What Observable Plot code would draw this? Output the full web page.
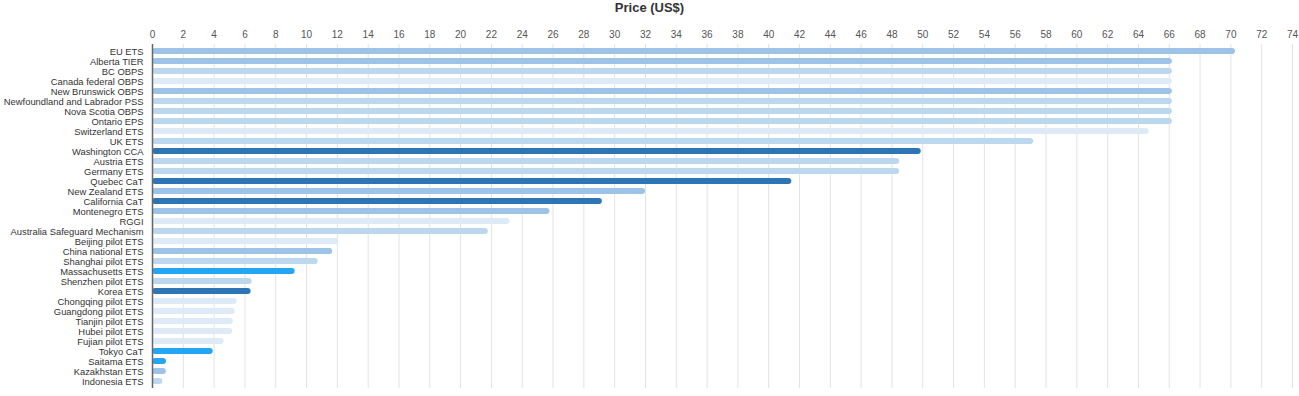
<!DOCTYPE html>
<html>
<head>
<meta charset="utf-8">
<script src="https://cdn.jsdelivr.net/npm/d3@7"></script>
<script src="https://cdn.jsdelivr.net/npm/@observablehq/plot@0.6"></script>
<style>
  html, body { margin: 0; padding: 0; background: #fff; }
  #title { height: 18px; line-height: 18px; text-align: center; font: bold 13px "Liberation Sans", Arial, sans-serif; color: #333; }
  #chart svg { display: block; }
</style>
</head>
<body>
<div id="title">Price (US$)</div>
<div id="chart"></div>
<script>
const systems = [
  "EU ETS", "Alberta TIER", "BC OBPS", "Canada federal OBPS", "New Brunswick OBPS",
  "Newfoundland and Labrador PSS", "Nova Scotia OBPS", "Ontario EPS", "Switzerland ETS", "UK ETS",
  "Washington CCA", "Austria ETS", "Germany ETS", "Quebec CaT", "New Zealand ETS",
  "California CaT", "Montenegro ETS", "RGGI", "Australia Safeguard Mechanism", "Beijing pilot ETS",
  "China national ETS", "Shanghai pilot ETS", "Massachusetts ETS", "Shenzhen pilot ETS", "Korea ETS",
  "Chongqing pilot ETS", "Guangdong pilot ETS", "Tianjin pilot ETS", "Hubei pilot ETS", "Fujian pilot ETS",
  "Tokyo CaT", "Saitama ETS", "Kazakhstan ETS", "Indonesia ETS"
];
const prices = [
  70.3, 66.2, 66.2, 66.2, 66.2,
  66.2, 66.2, 66.2, 64.7, 57.2,
  49.9, 48.5, 48.5, 41.5, 32.0,
  29.2, 25.8, 23.2, 21.8, 12.1,
  11.7, 10.75, 9.26, 6.47, 6.4,
  5.5, 5.37, 5.24, 5.2, 4.65,
  3.94, 0.91, 0.9, 0.67
];
const groups = [
  "B", "B", "C", "D", "B",
  "C", "C", "C", "D", "C",
  "A", "C", "C", "A", "B",
  "A", "B", "D", "C", "D",
  "B", "C", "E", "C", "A",
  "D", "D", "D", "D", "D",
  "E", "E", "B", "C"
];
const xTicks = d3.range(0, 75, 2);

const data = systems.map((s, i) => ({system: s, price: prices[i], group: groups[i]}));

const chart = Plot.plot({
  width: 1299,
  height: 378,
  marginTop: 26,
  marginBottom: 8,
  marginLeft: 152,
  marginRight: 7,
  style: {fontFamily: "'Liberation Sans', Arial, sans-serif", fontSize: "10px", color: "#444", background: "#fff"},
  x: {domain: [0, 74], round: false},
  y: {domain: systems, padding: 0.4, round: false},
  color: {domain: ["A", "B", "C", "D", "E"], range: ["#2e75b6", "#9dc3e6", "#bdd7ee", "#deebf7", "#22a6f5"]},
  marks: [
    Plot.gridX(xTicks, {stroke: "#e3e3e3", strokeOpacity: 1, strokeWidth: 1}),
    Plot.axisX(xTicks, {anchor: "top", tickSize: 0, tickPadding: 7, label: null, fill: "#555"}),
    Plot.axisY({anchor: "left", tickSize: 0, tickPadding: 9, label: null, fontSize: 9.4, fill: "#333"}),
    Plot.barX(data, {y: "system", x: "price", fill: "group", rx: 3}),
    Plot.ruleX([0], {stroke: "#666", strokeWidth: 1.5})
  ]
});
document.getElementById("chart").appendChild(chart);
</script>
</body>
</html>
